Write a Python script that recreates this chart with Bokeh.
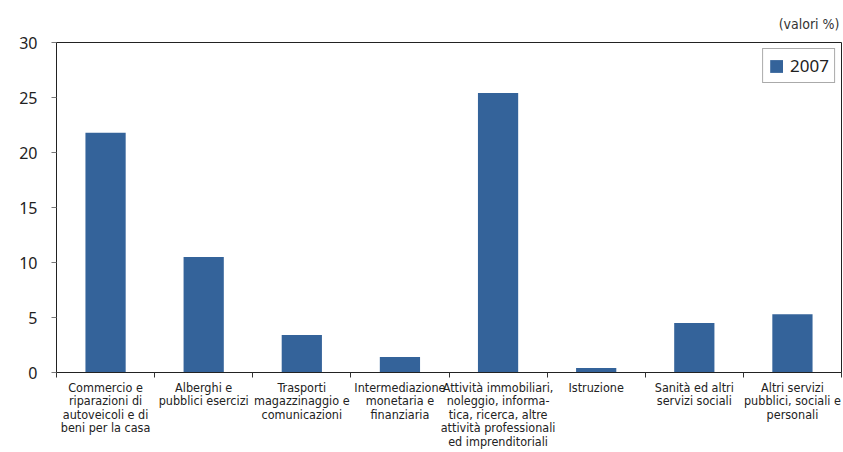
from bokeh.plotting import figure
from bokeh.models import Range1d, FixedTicker, ColumnDataSource
from bokeh.embed import file_html
from bokeh.resources import INLINE

categories = [
    "Commercio e\nriparazioni di\nautoveicoli e di\nbeni per la casa",
    "Alberghi e\npubblici esercizi",
    "Trasporti\nmagazzinaggio e\ncomunicazioni",
    "Intermediazione\nmonetaria e\nfinanziaria",
    "Attività immobiliari,\nnoleggio, informa-\ntica, ricerca, altre\nattività professionali\ned imprenditoriali",
    "Istruzione",
    "Sanità ed altri\nservizi sociali",
    "Altri servizi\npubblici, sociali e\npersonali",
]
values_2007 = [21.8, 10.5, 3.4, 1.4, 25.4, 0.4, 4.5, 5.3]
y_ticks = [0, 5, 10, 15, 20, 25, 30]
series_name = "2007"
unit_note = "(valori %)"

n = len(categories)
centers = [i + 0.5 for i in range(n)]
bounds = [i for i in range(n + 1)]

src = ColumnDataSource(dict(x=centers, v=values_2007))

p = figure(width=843, height=452, x_range=Range1d(0, n), y_range=Range1d(0, 30),
           output_backend="svg", toolbar_location=None,
           min_border_left=56, min_border_right=2, min_border_top=42, min_border_bottom=80,
           title=unit_note)

p.title.align = "right"
p.title.text_font = "DejaVu Sans Condensed, Noto Sans"
p.title.text_font_size = "14px"
p.title.text_font_style = "normal"
p.title.text_color = "#333333"
p.title.offset = 2
p.title.standoff = 21

p.vbar(x="x", top="v", width=0.41, source=src, fill_color="#34639a",
       line_color=None, legend_label=series_name)

p.xgrid.visible = False
p.ygrid.visible = False
p.outline_line_color = "#222222"
p.outline_line_width = 1

# y axis
p.yaxis.ticker = FixedTicker(ticks=y_ticks)
p.yaxis.major_tick_in = 0
p.yaxis.major_tick_out = 5
p.yaxis.minor_tick_out = 0
p.yaxis.minor_tick_in = 0
p.yaxis.major_tick_line_color = "#777777"
p.yaxis.axis_line_color = "#222222"
p.yaxis.major_label_text_font = "Noto Sans"
p.yaxis.major_label_text_font_size = "16px"
p.yaxis.major_label_text_color = "#222222"
p.yaxis.major_label_standoff = 14

# x axis: labels at centers, ticks at boundaries
p.xaxis.ticker = FixedTicker(ticks=centers, minor_ticks=bounds)
p.xaxis.major_label_overrides = {c: lab for c, lab in zip(centers, categories)}
p.xaxis.major_tick_in = 0
p.xaxis.major_tick_out = 0
p.xaxis.minor_tick_in = 0
p.xaxis.minor_tick_out = 5
p.xaxis.minor_tick_line_color = "#333333"
p.xaxis.axis_line_color = "#222222"
p.xaxis.major_label_text_font = "DejaVu Sans Condensed, Liberation Sans Narrow, Roboto"
p.xaxis.major_label_text_font_size = "12.5px"
p.xaxis.major_label_text_color = "#222222"
p.xaxis.major_label_text_line_height = 0.9
p.xaxis.major_label_standoff = 2

# legend
lg = p.legend[0]
lg.location = "top_right"
lg.margin = 6
lg.padding = 5
lg.label_text_font = "Noto Sans"
lg.label_text_font_size = "17px"
lg.label_text_color = "#222222"
lg.glyph_width = 16
lg.glyph_height = 16
lg.label_standoff = 6
lg.border_line_color = "#555555"
lg.border_line_width = 1
lg.background_fill_alpha = 1.0

open("out.html", "w").write(file_html(p, INLINE))
